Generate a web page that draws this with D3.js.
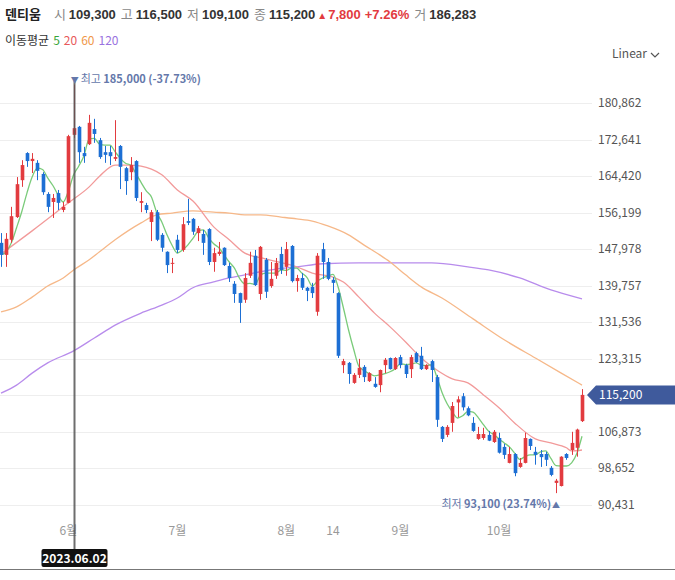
<!DOCTYPE html>
<html>
<head>
<meta charset="utf-8">
<script src="https://cdn.jsdelivr.net/npm/d3@7"></script>
<style>
body { margin: 0; background: #fff; }
svg { font-family: "Noto Sans CJK KR", "Noto Sans", sans-serif; }
</style>
</head>
<body>
<div id="chart"></div>
<script>
// 덴티움 일봉 (2023.05.12 ~ 2023.10.27)
const dates = [
  "2023.05.12","2023.05.15","2023.05.16","2023.05.17","2023.05.18","2023.05.19","2023.05.22","2023.05.23","2023.05.24","2023.05.25","2023.05.26","2023.05.30","2023.05.31",
  "2023.06.01","2023.06.02","2023.06.05","2023.06.07","2023.06.08","2023.06.09","2023.06.12","2023.06.13","2023.06.14","2023.06.15","2023.06.16","2023.06.19","2023.06.20","2023.06.21","2023.06.22","2023.06.23","2023.06.26","2023.06.27","2023.06.28","2023.06.29","2023.06.30",
  "2023.07.03","2023.07.04","2023.07.05","2023.07.06","2023.07.07","2023.07.10","2023.07.11","2023.07.12","2023.07.13","2023.07.14","2023.07.17","2023.07.18","2023.07.19","2023.07.20","2023.07.21","2023.07.24","2023.07.25","2023.07.26","2023.07.27","2023.07.28","2023.07.31",
  "2023.08.01","2023.08.02","2023.08.03","2023.08.04","2023.08.07","2023.08.08","2023.08.09","2023.08.10","2023.08.11","2023.08.14","2023.08.16","2023.08.17","2023.08.18","2023.08.21","2023.08.22","2023.08.23","2023.08.24","2023.08.25","2023.08.28","2023.08.29","2023.08.30","2023.08.31",
  "2023.09.01","2023.09.04","2023.09.05","2023.09.06","2023.09.07","2023.09.08","2023.09.11","2023.09.12","2023.09.13","2023.09.14","2023.09.15","2023.09.18","2023.09.19","2023.09.20","2023.09.21","2023.09.22","2023.09.25","2023.09.26","2023.09.27",
  "2023.10.04","2023.10.05","2023.10.06","2023.10.10","2023.10.11","2023.10.12","2023.10.13","2023.10.16","2023.10.17","2023.10.18","2023.10.19","2023.10.20","2023.10.23","2023.10.24","2023.10.25","2023.10.26","2023.10.27"
];

const opens = [
  149400,146700,150100,155200,163500,169600,167800,167400,164900,160400,158600,160600,156800,
  158400,173700,175500,169600,171600,175000,172500,169800,169800,168300,171200,166200,165300,167800,158400,157900,154100,156300,151200,147400,144700,
  150100,147800,154300,154800,151600,151400,152500,145100,146900,148300,144200,140200,138100,136600,142000,146500,137900,145600,139700,142000,146900,
  144000,148700,140800,141500,139300,139500,133900,148000,145100,141100,138100,121900,122400,117900,119700,121500,118300,117700,117400,121900,123500,121000,
  123700,121900,121000,124600,124000,121000,122800,119200,108000,106200,108900,113500,114900,112200,108900,105300,105500,106200,104600,
  105500,103500,99900,101900,99000,99900,105300,102400,101900,101900,98800,95400,94700,101900,102800,103300,109300
];
const highs = [
  151600,151600,157500,164200,168000,169800,169600,168000,165300,160800,160400,161300,158600,
  173700,185000,175700,171000,178200,177300,173000,171200,171200,177000,171400,166500,168700,168000,160800,158400,156800,156800,151600,147500,146000,
  151200,155200,159300,155000,153200,152300,152700,148300,149600,148400,144900,140800,138200,142600,147400,147800,148700,146000,145100,146000,148500,
  149600,148900,142200,142600,139500,140400,147100,149400,146000,141700,138300,123300,122600,120100,123300,121900,120300,119200,120900,123500,123600,123700,
  124200,122200,124200,124900,126000,122100,123100,119700,108200,108400,113600,114900,115600,112600,110200,108000,107800,107100,107300,
  106700,104200,103500,102100,101000,106700,105400,103500,102800,102400,99200,96300,101400,102100,106900,107600,116500
];
const lows = [
  144000,144000,149400,155000,162000,166500,165100,163500,160200,156300,155000,156800,156300,
  158300,173000,167400,167400,171400,171900,168300,167400,166900,167800,161500,160200,163500,158800,156300,156100,149800,149800,147400,142600,142600,
  147100,147400,153400,151200,149800,146700,144400,142900,146500,144200,140600,135900,131400,135900,141500,139700,136600,137000,139300,141300,142400,
  142000,140500,138400,138800,136300,137000,133000,141300,141000,138100,123500,120100,117700,117700,119000,118100,118100,116800,115800,120100,120900,120800,
  121200,119000,119000,122400,120800,120800,118100,108000,104600,105700,106900,110200,111700,110400,106900,105100,105100,104800,104400,
  102000,100800,99800,96900,98800,99800,102800,99500,99000,99200,96900,93100,94600,100600,101700,101300,109100
];
const closes = [
  146700,150300,155400,162600,166900,167800,168300,165600,160800,157500,159500,158400,157500,
  173400,175200,169800,168900,176400,173900,168700,169200,168900,168700,166500,163300,166900,159500,158800,156800,156300,150100,148300,144400,144900,
  147800,153600,153900,151900,152700,149400,145100,147100,147400,144400,141500,137900,135900,141500,144900,139900,148500,138400,141300,144900,143300,
  148000,140800,141500,139300,138600,138100,146500,145100,141300,140400,124000,122800,119900,119700,121300,119200,120100,117000,120800,123100,121000,123500,
  121900,119900,123700,122600,121000,121900,120800,109600,105300,108000,112700,114200,112400,110600,107100,106400,106400,104900,106900,
  102200,101700,101900,97600,99900,105500,103700,101700,101200,100600,97200,95900,101300,101000,104400,107400,115200
];
const lastVolume = 186283;

// 이동평균 5 (일별)
const ma5 = [
  146700,147400,149400,152800,156400,160600,164200,166200,165900,164000,162300,160200,158600,
  161100,164700,166700,169000,172800,172900,171600,171400,171400,169900,168400,167300,166900,165000,163000,161100,159700,156300,154100,151200,148800,
  147100,147800,148900,150400,152000,152300,150600,149200,148300,146700,145100,143700,141400,140200,140300,140000,142100,142600,142600,142600,143300,
  143200,143700,143700,142600,141600,139700,140800,141500,141900,142300,139400,134800,129800,125400,121600,120700,120000,119500,119700,120000,120400,121100,
  122200,122000,122100,122400,121900,121800,122000,119300,115800,113200,111400,110000,110500,111500,111300,110100,108500,107000,106300,
  105300,104400,103500,102100,100700,101300,101700,101700,102400,102600,100900,99300,99200,99200,99900,102000,105900
];
// 이동평균 20 / 60 / 120 (그림에서 읽은 점)
const ma20Dates = ["2023.05.12","2023.05.22","2023.06.01","2023.06.08","2023.06.12","2023.06.15","2023.06.20","2023.06.26","2023.06.28","2023.07.03","2023.07.06","2023.07.12","2023.07.17","2023.07.20","2023.07.26","2023.08.03","2023.08.08","2023.08.14","2023.08.17","2023.08.22","2023.08.25","2023.08.30","2023.09.04","2023.09.07","2023.09.12","2023.09.15","2023.09.20","2023.09.25","2023.10.04","2023.10.10","2023.10.16","2023.10.19","2023.10.24","2023.10.25","2023.10.27"];
const ma20 = [146900,152100,158400,162000,164400,166900,166900,166000,164700,161300,158800,153000,150100,147100,145800,144000,142600,141700,140600,137200,133600,130500,127100,123500,120800,118800,117900,115200,112300,108900,105300,104400,103300,102600,102800];

const ma60Dates = ["2023.05.12","2023.05.17","2023.05.22","2023.05.25","2023.05.31","2023.06.02","2023.06.08","2023.06.12","2023.06.15","2023.06.22","2023.06.27","2023.06.30","2023.07.06","2023.07.12","2023.07.17","2023.07.20","2023.07.25","2023.07.31","2023.08.03","2023.08.08","2023.08.11","2023.08.18","2023.08.23","2023.08.28","2023.08.30","2023.09.04","2023.09.07","2023.09.13","2023.09.21","2023.10.05","2023.10.16","2023.10.23","2023.10.27"];
const ma60 = [133900,135000,137200,139700,141500,143300,145600,147400,150100,153900,155700,156100,156600,156300,156100,155700,155700,155200,154800,154300,153200,151200,148900,146700,145100,142200,139500,137000,132300,127600,123500,120100,117400];

const ma120Dates = ["2023.05.12","2023.05.17","2023.05.22","2023.05.25","2023.06.02","2023.06.09","2023.06.15","2023.06.22","2023.06.28","2023.07.03","2023.07.06","2023.07.12","2023.07.17","2023.07.20","2023.07.25","2023.07.28","2023.08.03","2023.08.10","2023.08.22","2023.09.01","2023.09.11","2023.09.20","2023.09.26","2023.10.11","2023.10.19","2023.10.27"];
const ma120 = [115600,117400,120100,122400,125100,128000,130900,133600,135400,137000,139300,140600,141500,142200,142900,143500,144000,144700,144900,144900,144900,144000,143300,141500,138800,136800];

const yTicks = [180862, 172641, 164420, 156199, 147978, 139757, 131536, 123315, 115094, 106873, 98652, 90431];
const xTickDates = ["2023.06.01", "2023.07.03", "2023.08.01", "2023.08.14", "2023.09.01", "2023.10.04"];
const xTickLabels = ["6월", "7월", "8월", "14", "9월", "10월"];
const crossDate = "2023.06.02";

const width = 675, height = 580;
const red = "#e23b3f", blue = "#1d6fd4";
const fmt = d3.format(",");

const svg = d3.select("#chart").append("svg")
  .attr("width", width)
  .attr("height", height);

const x = d3.scalePoint().domain(dates).range([1, 582]);
const y = d3.scaleLinear().domain([90431, 180862]).range([505, 103]);

// 헤더 (한 줄로 이어서 배치)
const n = closes.length - 1;
const chg = closes[n] - closes[n - 1];
const head = [
  ["덴티움", 0, "bold", "#222", 13],
  ["시", 13, "normal", "#888", 13], [fmt(opens[n]), 3, "bold", "#333", 13],
  ["고", 5, "normal", "#888", 13], [fmt(highs[n]), 3, "bold", "#333", 13],
  ["저", 5, "normal", "#888", 13], [fmt(lows[n]), 3, "bold", "#333", 13],
  ["종", 5, "normal", "#888", 13], [fmt(closes[n]), 3, "bold", "#333", 13],
  ["▲", 2, "normal", red, 10], [fmt(chg), 1, "bold", red, 13],
  ["+" + (chg / closes[n - 1] * 100).toFixed(2) + "%", 4, "bold", red, 13],
  ["거", 5, "normal", "#888", 13], [fmt(lastVolume), 3, "bold", "#333", 13]
];
const headText = svg.append("text")
  .attr("x", 5).attr("y", 19)
  .attr("font-family", "'Liberation Sans', 'Noto Sans CJK KR', sans-serif");
headText.selectAll("tspan")
  .data(head)
  .enter().append("tspan")
  .attr("dx", d => d[1])
  .attr("font-weight", d => d[2])
  .attr("fill", d => d[3])
  .attr("font-size", d => d[4])
  .text(d => d[0]);

const legend = svg.append("text").attr("x", 5).attr("y", 45).attr("font-size", 12);
legend.append("tspan").attr("fill", "#333").text("이동평균");
[["5", "#3aa53a"], ["20", "#e8585a"], ["60", "#f0984a"], ["120", "#9a72e0"]].forEach(d => {
  legend.append("tspan").attr("dx", 4).attr("fill", d[1]).text(d[0]);
});

// Linear
svg.append("text").attr("x", 612).attr("y", 58).attr("font-size", 12).attr("fill", "#555").text("Linear");
svg.append("path").attr("d", "M651,53 L655,57 L659,53").attr("fill", "none").attr("stroke", "#555").attr("stroke-width", 1.2);

// 가로 그리드 + 가격 라벨
svg.append("g").selectAll("line")
  .data(yTicks)
  .enter().append("line")
  .attr("x1", 0).attr("x2", 592)
  .attr("y1", d => Math.round(y(d)) + 0.5)
  .attr("y2", d => Math.round(y(d)) + 0.5)
  .attr("stroke", "#eeeeee");

svg.append("g").selectAll("text")
  .data(yTicks)
  .enter().append("text")
  .attr("x", 598)
  .attr("y", d => y(d) + 4)
  .attr("font-size", 12)
  .attr("fill", "#555")
  .text(d => fmt(d));

// x축 라벨
svg.append("g").selectAll("text")
  .data(xTickDates)
  .enter().append("text")
  .attr("x", d => x(d))
  .attr("y", 535)
  .attr("text-anchor", "middle")
  .attr("font-size", 12)
  .attr("fill", "#999")
  .text((d, i) => xTickLabels[i]);

// 플롯 영역 클립
svg.append("defs").append("clipPath").attr("id", "plot")
  .append("rect").attr("x", 0).attr("y", 60).attr("width", 587).attr("height", 460);
const plot = svg.append("g").attr("clip-path", "url(#plot)");

// 이동평균선
function maLine(ds, vs, color) {
  const pts = ds.map((d, i) => [x(d), y(vs[i])]);
  plot.append("path")
    .attr("d", d3.line().curve(d3.curveMonotoneX)(pts))
    .attr("fill", "none")
    .attr("stroke", color)
    .attr("stroke-width", 1.3);
}
maLine(ma120Dates, ma120, "#b88cec");
maLine(ma60Dates, ma60, "#f6b889");
maLine(ma20Dates, ma20, "#f29a9a");
maLine(dates, ma5, "#7acb7a");

// 캔들
const bw = x.step() * 0.7;
const candles = plot.append("g").selectAll("g")
  .data(dates)
  .enter().append("g");

candles.append("line")
  .attr("x1", d => Math.round(x(d)) + 0.5)
  .attr("x2", d => Math.round(x(d)) + 0.5)
  .attr("y1", (d, i) => y(highs[i]))
  .attr("y2", (d, i) => y(lows[i]))
  .attr("stroke", (d, i) => closes[i] >= opens[i] ? red : blue)
  .attr("stroke-width", 1);

candles.append("rect")
  .attr("x", d => Math.round(x(d)) + 0.5 - bw / 2)
  .attr("width", bw)
  .attr("y", (d, i) => y(Math.max(opens[i], closes[i])))
  .attr("height", (d, i) => Math.max(1, Math.abs(y(opens[i]) - y(closes[i]))))
  .attr("fill", (d, i) => closes[i] >= opens[i] ? red : blue);

// 최고 / 최저 표시
const hiIdx = d3.maxIndex(highs), loIdx = d3.minIndex(lows);
const hi = highs[hiIdx], lo = lows[loIdx];
const noteColor = "#6478aa";

// 크로스헤어
const cx = Math.round(x(crossDate)) + 0.5;
svg.append("line")
  .attr("x1", cx).attr("x2", cx)
  .attr("y1", y(hi) - 4).attr("y2", 549)
  .attr("stroke", "#555").attr("stroke-opacity", 0.85).attr("stroke-width", 2);
svg.append("rect")
  .attr("x", cx - 33).attr("y", 549).attr("width", 66).attr("height", 18).attr("rx", 2)
  .attr("fill", "#111");
svg.append("text")
  .attr("x", cx).attr("y", 562.5)
  .attr("text-anchor", "middle").attr("font-size", 12).attr("font-weight", "bold").attr("fill", "#fff")
  .text(crossDate);
svg.append("line")
  .attr("x1", 0).attr("x2", width).attr("y1", 569.5).attr("y2", 569.5)
  .attr("stroke", "#777");

const hiText = svg.append("text")
  .attr("x", x(dates[hiIdx]) - 3).attr("y", y(hi) - 2).attr("font-size", 11).attr("fill", noteColor);
hiText.append("tspan").attr("font-size", 8).text("▼");
hiText.append("tspan").attr("dx", 2).text("최고 ");
hiText.append("tspan").attr("font-weight", "bold").text(fmt(hi) + " (" + ((closes[n] - hi) / hi * 100).toFixed(2) + "%)");

const loText = svg.append("text")
  .attr("x", x(dates[loIdx]) + 4).attr("y", y(lo) + 15).attr("text-anchor", "end").attr("font-size", 11).attr("fill", noteColor);
loText.append("tspan").text("최저 ");
loText.append("tspan").attr("font-weight", "bold").text(fmt(lo) + " (" + ((closes[n] - lo) / lo * 100).toFixed(2) + "%)");
loText.append("tspan").attr("font-size", 8).attr("dx", 1).text("▲");

// 현재가 태그
const ty = y(closes[n]);
svg.append("path")
  .attr("d", "M587," + ty + " L596," + (ty - 9.5) + " L675," + (ty - 9.5) + " L675," + (ty + 9.5) + " L596," + (ty + 9.5) + " Z")
  .attr("fill", "#3f5a9c");
svg.append("text")
  .attr("x", 599).attr("y", ty + 4.5)
  .attr("font-size", 12).attr("fill", "#fff")
  .text(fmt(closes[n]));
</script>
</body>
</html>
